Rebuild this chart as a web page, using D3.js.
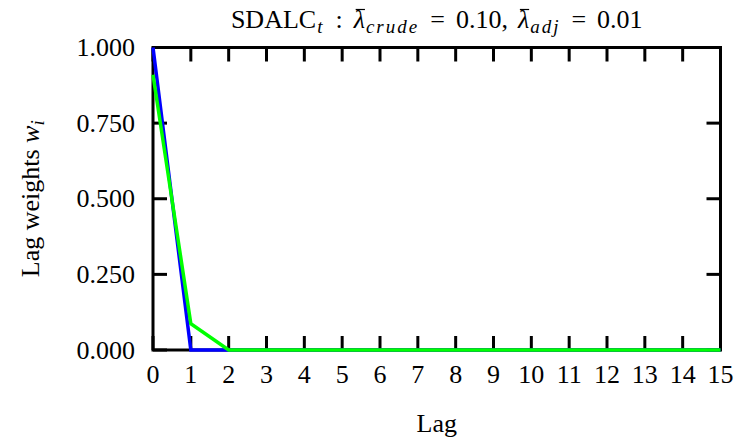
<!DOCTYPE html>
<html>
<head>
<meta charset="utf-8">
<script src="https://cdn.jsdelivr.net/npm/d3@7/dist/d3.min.js"></script>
<style>
  html, body { margin: 0; padding: 0; background: #fff; }
</style>
</head>
<body>
<svg id="chart" width="751" height="441"></svg>
<script>
// Lag index and estimated lag weights for each series
const lags = d3.range(0, 16);
const crudeWeights = [1.000, 0.000, 0.000, 0.000, 0.000, 0.000, 0.000, 0.000,
                      0.000, 0.000, 0.000, 0.000, 0.000, 0.000, 0.000, 0.000];
const adjWeights   = [0.910, 0.087, 0.000, 0.000, 0.000, 0.000, 0.000, 0.000,
                      0.000, 0.000, 0.000, 0.000, 0.000, 0.000, 0.000, 0.000];
const yTicks = [0, 0.25, 0.5, 0.75, 1.0];
const seriesColors = ["#0000ff", "#00ff00"];

const svg = d3.select("#chart")
  .attr("font-family", "'Liberation Serif', 'DejaVu Serif'");
const plotLeft = 153, plotRight = 720.5, plotTop = 47.5, plotBottom = 350;
const fontSize = 26;
const subSize = 19;

const x = d3.scaleLinear().domain([0, 15]).range([plotLeft, plotRight]);
const y = d3.scaleLinear().domain([0, 1]).range([plotBottom, plotTop]);

const tickLen = 14;
const axisStroke = 3;

// frame
svg.append("rect")
  .attr("x", plotLeft).attr("y", plotTop)
  .attr("width", plotRight - plotLeft).attr("height", plotBottom - plotTop)
  .attr("fill", "none").attr("stroke", "#000").attr("stroke-width", axisStroke);

// inward ticks on all four sides
const ticks = svg.append("g").attr("stroke", "#000").attr("stroke-width", axisStroke);
lags.forEach(l => {
  ticks.append("line").attr("x1", x(l)).attr("x2", x(l)).attr("y1", plotBottom).attr("y2", plotBottom - tickLen);
  ticks.append("line").attr("x1", x(l)).attr("x2", x(l)).attr("y1", plotTop).attr("y2", plotTop + tickLen);
});
yTicks.forEach(v => {
  ticks.append("line").attr("x1", plotLeft).attr("x2", plotLeft + tickLen).attr("y1", y(v)).attr("y2", y(v));
  ticks.append("line").attr("x1", plotRight).attr("x2", plotRight - tickLen).attr("y1", y(v)).attr("y2", y(v));
});

// tick labels
svg.append("g").selectAll("text").data(lags).join("text")
  .attr("x", d => x(d)).attr("y", 383)
  .attr("text-anchor", "middle").attr("font-size", fontSize)
  .text(d => d);
svg.append("g").selectAll("text").data(yTicks).join("text")
  .attr("x", plotLeft - 18).attr("y", d => y(d) + 8.5)
  .attr("text-anchor", "end").attr("font-size", fontSize)
  .text(d => d3.format(".3f")(d));

// series lines
const line = d3.line().x((d, i) => x(lags[i])).y(d => y(d));
[crudeWeights, adjWeights].forEach((s, k) => {
  svg.append("path").datum(s)
    .attr("d", line)
    .attr("fill", "none")
    .attr("stroke", seriesColors[k])
    .attr("stroke-width", 3.5)
    .attr("stroke-linejoin", "miter");
});

// axis titles
svg.append("text")
  .attr("x", (plotLeft + plotRight) / 2).attr("y", 432)
  .attr("text-anchor", "middle").attr("font-size", fontSize)
  .text("Lag");

const yTitle = svg.append("text")
  .attr("transform", `translate(39,${(plotTop + plotBottom) / 2}) rotate(-90)`)
  .attr("text-anchor", "middle").attr("font-size", fontSize);
yTitle.append("tspan").text("Lag weights ");
yTitle.append("tspan").attr("font-style", "italic").text("w");
yTitle.append("tspan").attr("font-style", "italic").attr("font-size", subSize).attr("dy", 5).text("i");

// title with barred lambdas, set in a single flowing text line
const titleG = svg.append("g");
const title = titleG.append("text").attr("x", 0).attr("y", 28).attr("font-size", fontSize);
const piece = (txt, gap, opts = {}) => {
  const t = title.append("tspan").attr("dx", gap).text(txt);
  if (opts.italic) t.attr("font-style", "italic");
  if (opts.sub) t.attr("font-size", subSize).attr("letter-spacing", 2).attr("dy", 5);
  if (opts.up) t.attr("dy", -5);
  return t;
};
piece("SDALC", 0);
piece("t", 1, { italic: true, sub: true });
piece(":", 11, { up: true });
const lam1 = piece("λ", 11, { italic: true });
piece("crude", 1, { italic: true, sub: true });
piece("=", 11, { up: true });
piece("0.10,", 11);
const lam2 = piece("λ", 10, { italic: true });
piece("adj", 1, { italic: true, sub: true });
piece("=", 11, { up: true });
piece("0.01", 11);

// center the title over the plot area
const tb = title.node().getBBox();
const titleShift = (plotLeft + plotRight) / 2 - (tb.x + tb.width / 2);
titleG.attr("transform", `translate(${titleShift},0)`);

[lam1, lam2].forEach(t => {
  const r = t.node().getExtentOfChar(0);
  titleG.append("line")
    .attr("x1", r.x + 2).attr("x2", r.x + r.width)
    .attr("y1", 9.5).attr("y2", 9.5)
    .attr("stroke", "#000").attr("stroke-width", 1.2);
});
</script>
</body>
</html>
